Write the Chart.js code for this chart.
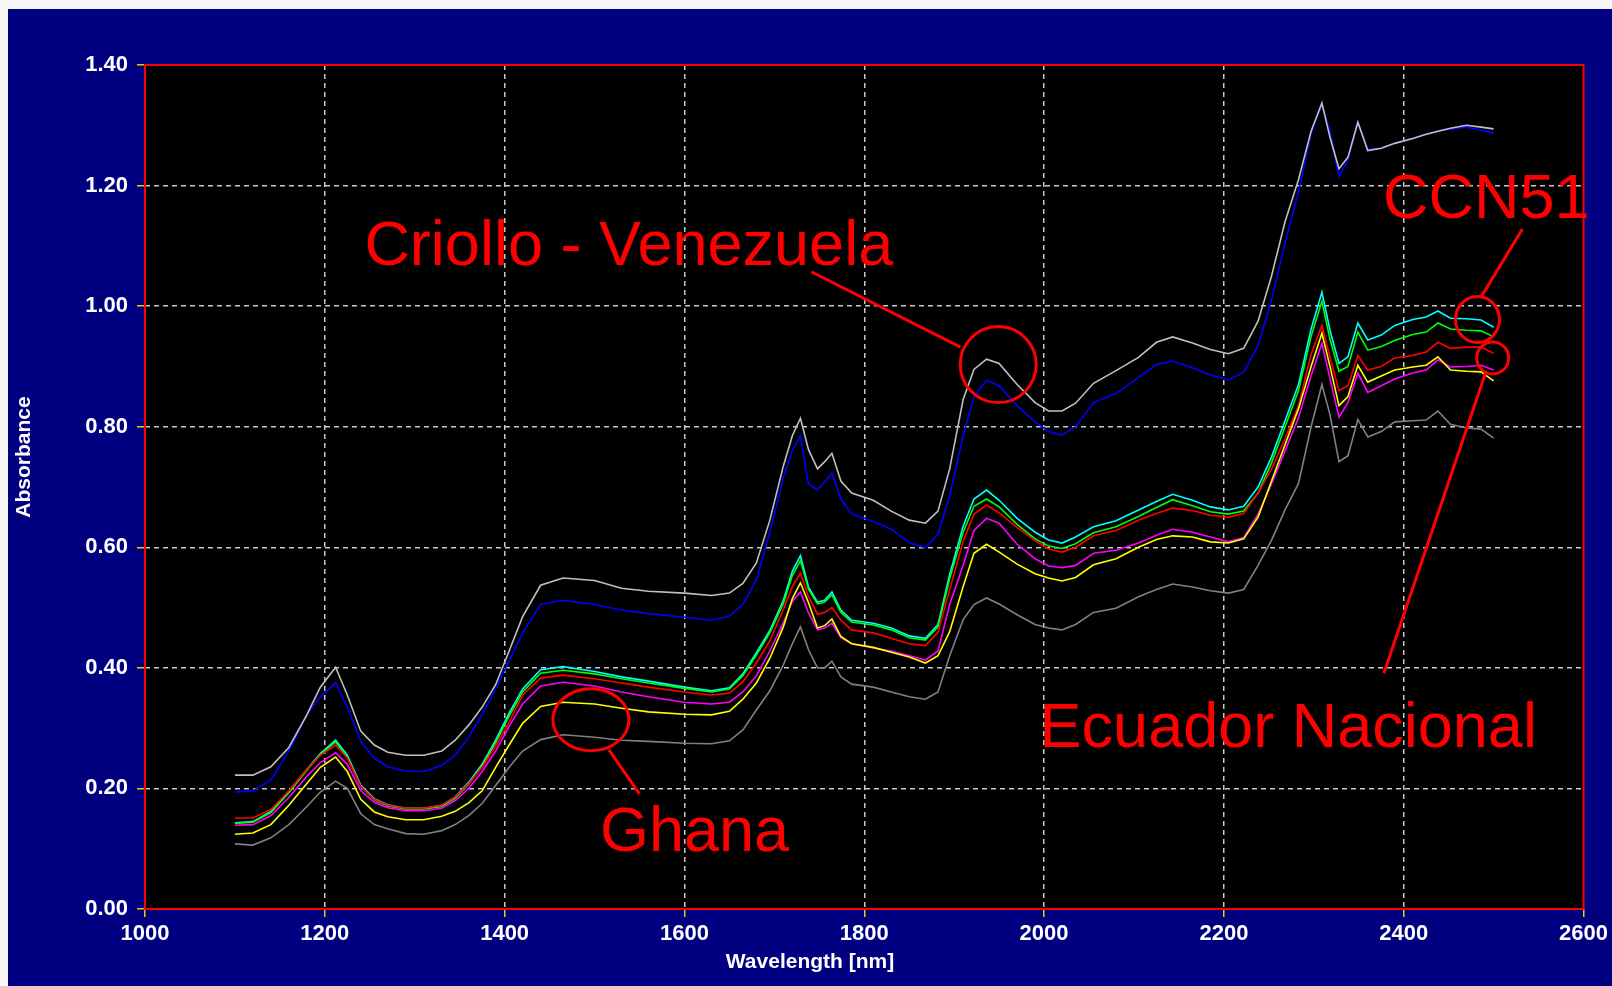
<!DOCTYPE html>
<html lang="en">
  <head>
    <meta charset="UTF-8" />
    <title>NIR spectra - cocoa</title>
    <script src="https://cdn.jsdelivr.net/npm/chart.js"></script>
    <style>
      html, body { margin: 0; padding: 0; background: #f6f6f6; }
      #wrap {
        position: absolute;
        left: 8px;
        top: 9px;
        width: 1604px;
        height: 977px;
        background: #000080;
      }
    </style>
  </head>
  <body>
    <div id="wrap"><canvas id="chartNir"></canvas></div>

    <script>
      // wavelength grid (nm)
      const wavelengths = [
        1100, 1120, 1140, 1160, 1180, 1195, 1212, 1225, 1240, 1255,
        1270, 1290, 1310, 1330, 1345, 1360, 1375, 1390, 1405, 1420,
        1440, 1465, 1500, 1530, 1560, 1600, 1630, 1650, 1665, 1680,
        1695, 1710, 1720, 1729, 1738, 1748, 1756, 1764, 1774, 1786,
        1810, 1830, 1850, 1868, 1882, 1895, 1910, 1922, 1936, 1950,
        1970, 1990, 2005, 2020, 2035, 2055, 2080, 2105, 2125, 2143,
        2165, 2185, 2205, 2222, 2238, 2253, 2268, 2283, 2297, 2309,
        2318, 2328, 2338, 2349, 2360, 2375, 2390, 2410, 2425, 2438,
        2452, 2470, 2486, 2500
      ];

      // absorbance per sample
      const criolloLight = [
        0.222, 0.222, 0.236, 0.268, 0.322, 0.368, 0.401, 0.355, 0.295, 0.272,
        0.260, 0.255, 0.255, 0.262, 0.280, 0.305, 0.335, 0.372, 0.428, 0.485,
        0.537, 0.549, 0.545, 0.532, 0.527, 0.524, 0.520, 0.524, 0.540, 0.574,
        0.645, 0.735, 0.785, 0.814, 0.762, 0.730, 0.742, 0.756, 0.710, 0.690,
        0.678, 0.660, 0.645, 0.640, 0.660, 0.730, 0.845, 0.895, 0.912, 0.905,
        0.870, 0.840, 0.826, 0.826, 0.839, 0.872, 0.893, 0.915, 0.940, 0.949,
        0.939, 0.928, 0.921, 0.930, 0.975, 1.050, 1.140, 1.210, 1.290, 1.337,
        1.280, 1.228, 1.247, 1.305, 1.258, 1.262, 1.270, 1.278, 1.285, 1.290,
        1.295, 1.300, 1.297, 1.294
      ];
      const criolloBlue = [
        0.194, 0.196, 0.214, 0.262, 0.322, 0.352, 0.375, 0.335, 0.278, 0.250,
        0.236, 0.229, 0.228, 0.238, 0.255, 0.285, 0.323, 0.365, 0.412, 0.458,
        0.505, 0.512, 0.505, 0.496, 0.490, 0.484, 0.479, 0.486, 0.505, 0.546,
        0.625, 0.715, 0.760, 0.785, 0.705, 0.695, 0.708, 0.723, 0.680, 0.655,
        0.643, 0.630, 0.608, 0.599, 0.622, 0.685, 0.785, 0.850, 0.877, 0.868,
        0.835, 0.808, 0.792, 0.786, 0.800, 0.840, 0.855, 0.882, 0.903, 0.909,
        0.898, 0.886, 0.878, 0.890, 0.935, 1.010, 1.105, 1.190, 1.287, 1.335,
        1.290, 1.215, 1.242, 1.305, 1.260, 1.262, 1.270, 1.278, 1.285, 1.290,
        1.294, 1.297, 1.292, 1.287
      ];
      const ccnCyan = [
        0.143, 0.145, 0.162, 0.195, 0.232, 0.258, 0.280, 0.255, 0.205, 0.183,
        0.173, 0.167, 0.167, 0.172, 0.186, 0.210, 0.240, 0.280, 0.325, 0.365,
        0.397, 0.402, 0.394, 0.385, 0.378, 0.368, 0.362, 0.367, 0.390, 0.425,
        0.462, 0.512, 0.560, 0.586, 0.534, 0.509, 0.512, 0.526, 0.496, 0.479,
        0.474, 0.466, 0.453, 0.449, 0.472, 0.555, 0.635, 0.680, 0.695, 0.678,
        0.648, 0.625, 0.612, 0.607, 0.617, 0.634, 0.644, 0.662, 0.676, 0.688,
        0.678, 0.667, 0.662, 0.668, 0.700, 0.750, 0.810, 0.870, 0.962, 1.023,
        0.960, 0.905, 0.916, 0.972, 0.944, 0.952, 0.968, 0.978, 0.982, 0.992,
        0.980, 0.979, 0.977, 0.965
      ];
      const ccnGreen = [
        0.142, 0.144, 0.160, 0.193, 0.230, 0.256, 0.277, 0.252, 0.203, 0.181,
        0.171, 0.166, 0.166, 0.170, 0.184, 0.207, 0.237, 0.276, 0.320, 0.360,
        0.391, 0.396, 0.390, 0.382, 0.375, 0.366, 0.360, 0.365, 0.387, 0.421,
        0.458, 0.507, 0.553, 0.578, 0.530, 0.506, 0.509, 0.521, 0.492, 0.476,
        0.471, 0.463, 0.450, 0.446, 0.468, 0.548, 0.625, 0.668, 0.680, 0.667,
        0.638, 0.614, 0.602, 0.598, 0.606, 0.624, 0.634, 0.651, 0.666, 0.679,
        0.669, 0.659, 0.655, 0.660, 0.690, 0.740, 0.800, 0.860, 0.950, 1.008,
        0.945, 0.892, 0.900, 0.957, 0.927, 0.933, 0.943, 0.953, 0.957, 0.972,
        0.962, 0.960, 0.959, 0.949
      ];
      const ecuadorRed = [
        0.151, 0.151, 0.165, 0.196, 0.232, 0.255, 0.272, 0.250, 0.203, 0.182,
        0.172, 0.167, 0.167, 0.172, 0.186, 0.208, 0.235, 0.270, 0.310, 0.355,
        0.383, 0.388, 0.382, 0.375, 0.368, 0.360, 0.355, 0.358, 0.377, 0.408,
        0.445, 0.497, 0.535, 0.557, 0.518, 0.489, 0.492, 0.500, 0.479, 0.463,
        0.458, 0.449, 0.440, 0.437, 0.459, 0.530, 0.610, 0.655, 0.670, 0.657,
        0.633, 0.611, 0.597, 0.592, 0.600, 0.619, 0.628, 0.645, 0.656, 0.665,
        0.661, 0.653, 0.650, 0.656, 0.690, 0.730, 0.780, 0.835, 0.920, 0.968,
        0.915, 0.860, 0.868, 0.918, 0.894, 0.900, 0.914, 0.918, 0.924, 0.940,
        0.930, 0.932, 0.932, 0.922
      ];
      const ecuadorMagenta = [
        0.139, 0.140, 0.155, 0.185, 0.220, 0.243, 0.259, 0.240, 0.196, 0.177,
        0.168, 0.163, 0.163, 0.167, 0.180, 0.200, 0.228, 0.262, 0.303, 0.340,
        0.370, 0.376, 0.370, 0.360, 0.352, 0.343, 0.340, 0.343, 0.360, 0.387,
        0.428, 0.475, 0.510, 0.526, 0.491, 0.463, 0.466, 0.474, 0.450, 0.440,
        0.433, 0.428, 0.420, 0.413, 0.428, 0.505, 0.570, 0.628, 0.648, 0.640,
        0.605, 0.581, 0.569, 0.566, 0.570, 0.590, 0.595, 0.607, 0.620, 0.630,
        0.625, 0.617, 0.609, 0.616, 0.655, 0.705, 0.760, 0.815, 0.885, 0.938,
        0.880, 0.816, 0.840, 0.889, 0.857, 0.868, 0.879, 0.889, 0.894, 0.911,
        0.899, 0.900, 0.902, 0.894
      ];
      const ghanaYellow = [
        0.124, 0.126, 0.140, 0.172, 0.208, 0.235, 0.252, 0.228, 0.182, 0.161,
        0.153, 0.148, 0.148, 0.154, 0.162, 0.176, 0.196, 0.235, 0.272, 0.308,
        0.336, 0.343, 0.340, 0.333, 0.327, 0.323, 0.322, 0.328, 0.348, 0.375,
        0.416, 0.468, 0.515, 0.541, 0.508, 0.466, 0.470, 0.481, 0.452, 0.440,
        0.434, 0.426, 0.418, 0.408, 0.420, 0.460, 0.535, 0.590, 0.605, 0.592,
        0.572, 0.556, 0.549, 0.544, 0.550, 0.571, 0.581, 0.600, 0.613, 0.619,
        0.617, 0.609, 0.607, 0.614, 0.650, 0.710, 0.770, 0.830, 0.900, 0.955,
        0.900, 0.835, 0.850, 0.902, 0.874, 0.884, 0.894, 0.899, 0.902, 0.916,
        0.894, 0.892, 0.891, 0.876
      ];
      const ghanaGray = [
        0.108, 0.106, 0.118, 0.140, 0.170, 0.194, 0.212, 0.200, 0.158, 0.140,
        0.133, 0.125, 0.124, 0.130, 0.140, 0.155, 0.175, 0.205, 0.235, 0.262,
        0.281, 0.289, 0.285, 0.280, 0.278, 0.275, 0.274, 0.279, 0.297, 0.330,
        0.362, 0.405, 0.440, 0.468, 0.430, 0.400, 0.400, 0.411, 0.385, 0.373,
        0.368, 0.360, 0.352, 0.348, 0.360, 0.420, 0.480, 0.505, 0.516, 0.506,
        0.488, 0.472, 0.466, 0.463, 0.472, 0.492, 0.499, 0.518, 0.530, 0.539,
        0.534, 0.528, 0.524, 0.530, 0.570, 0.612, 0.662, 0.706, 0.800, 0.870,
        0.820, 0.742, 0.752, 0.812, 0.783, 0.792, 0.808, 0.810, 0.811, 0.826,
        0.804, 0.798, 0.796, 0.781
      ];

      const xTicks = [1000, 1200, 1400, 1600, 1800, 2000, 2200, 2400, 2600];
      const yTicks = [0, 0.2, 0.4, 0.6, 0.8, 1.0, 1.2, 1.4];

      // red labels, anchored in data units (wavelength, absorbance)
      const notes = [
        { text: "Criollo - Venezuela", x: 1244, y: 1.068 },
        { text: "CCN51", x: 2377, y: 1.146 },
        { text: "Ghana", x: 1506, y: 0.096 },
        { text: "Ecuador Nacional", x: 1995, y: 0.269 },
      ];
      const rings = [
        { x: 1949, y: 0.903, rx: 38, ry: 38 },
        { x: 2482, y: 0.978, rx: 22, ry: 23 },
        { x: 2499, y: 0.914, rx: 16, ry: 16 },
        { x: 1496, y: 0.314, rx: 38, ry: 31 },
      ];
      const pointers = [
        [1741, 1.057, 1907, 0.932],
        [2486, 1.015, 2532, 1.128],
        [2491, 0.889, 2378, 0.391],
        [1516, 0.264, 1550, 0.191],
      ];

      const series = [
        { data: ghanaGray, color: "#808080" },
        { data: ghanaYellow, color: "#ffff00" },
        { data: ecuadorMagenta, color: "#ff00ff" },
        { data: ecuadorRed, color: "#ff0000" },
        { data: ccnGreen, color: "#00ff00" },
        { data: ccnCyan, color: "#00ffff" },
        { data: criolloLight, color: "#c0c0c0" },
        { data: criolloBlue, color: "#0000ff" },
      ];

      const frame = {
        id: "frame",
        beforeDraw(chart) {
          const { ctx, chartArea: a } = chart;
          ctx.save();
          ctx.fillStyle = "#000000";
          ctx.fillRect(a.left, a.top, a.right - a.left, a.bottom - a.top);
          ctx.restore();
        },
        afterDraw(chart) {
          const { ctx, chartArea: a, scales } = chart;
          const sx = (v) => scales.x.getPixelForValue(v);
          const sy = (v) => scales.y.getPixelForValue(v);
          ctx.save();
          ctx.setLineDash([]);
          ctx.strokeStyle = "#ff0000";
          ctx.lineWidth = 2;
          ctx.strokeRect(a.left, a.top, a.right - a.left, a.bottom - a.top);

          // axis titles
          ctx.fillStyle = "#ffffff";
          ctx.font = "bold 21px 'Liberation Sans', Arial, sans-serif";
          ctx.textAlign = "center";
          ctx.textBaseline = "middle";
          ctx.fillText("Wavelength [nm]", chart.width / 2, 953);
          ctx.save();
          ctx.translate(16, 448);
          ctx.rotate(-Math.PI / 2);
          ctx.fillText("Absorbance", 0, 0);
          ctx.restore();

          // annotations
          ctx.strokeStyle = "#ff0000";
          ctx.fillStyle = "#ff0000";
          ctx.lineWidth = 3;
          rings.forEach((r) => {
            ctx.beginPath();
            ctx.ellipse(sx(r.x), sy(r.y), r.rx, r.ry, 0, 0, Math.PI * 2);
            ctx.stroke();
          });
          pointers.forEach((p) => {
            ctx.beginPath();
            ctx.moveTo(sx(p[0]), sy(p[1]));
            ctx.lineTo(sx(p[2]), sy(p[3]));
            ctx.stroke();
          });
          ctx.font = "63px 'Liberation Sans', Arial, sans-serif";
          ctx.textAlign = "left";
          ctx.textBaseline = "alphabetic";
          notes.forEach((n) => ctx.fillText(n.text, sx(n.x), sy(n.y)));
          ctx.restore();
        },
      };

      const tickFont = { family: "'Liberation Sans', Arial, sans-serif", size: 22, weight: "bold" };
      const gridStyle = {
        // no grey line on the frame edges
        color: (c) => (c.index === 0 || c.index === c.scale.ticks.length - 1 ? "rgba(0,0,0,0)" : "#c8c8c8"),
        lineWidth: 1.5,
        tickColor: "#e0d000",
        tickLength: 8,
        tickBorderDash: [1, 0],
      };

      new Chart(document.getElementById("chartNir"), {
        type: "line",
        data: {
          datasets: series.map((s) => ({
            data: wavelengths.map((w, i) => ({ x: w, y: s.data[i] })),
            borderColor: s.color,
            borderWidth: 1.6,
            pointRadius: 0,
            tension: 0,
            fill: false,
          })),
        },
        options: {
          responsive: true,
          maintainAspectRatio: false,
          animation: false,
          events: [],
          layout: { padding: { top: 56, right: 26, left: 0, bottom: 0 } },
          plugins: { legend: { display: false }, tooltip: { enabled: false } },
          scales: {
            x: {
              type: "linear",
              min: 1000,
              max: 2600,
              afterFit: (s) => { s.height = 77; },
              afterBuildTicks: (s) => { s.ticks = xTicks.map((v) => ({ value: v })); },
              ticks: { color: "#ffffff", font: tickFont, padding: 4, maxRotation: 0, callback: (v) => String(v) },
              grid: gridStyle,
              border: { display: false, dash: [5, 4] },
            },
            y: {
              min: 0,
              max: 1.4,
              afterFit: (s) => { s.width = 137; },
              afterBuildTicks: (s) => { s.ticks = yTicks.map((v) => ({ value: v })); },
              ticks: { color: "#ffffff", font: tickFont, padding: 9, callback: (v) => v.toFixed(2) },
              grid: gridStyle,
              border: { display: false, dash: [5, 4] },
            },
          },
        },
        plugins: [frame],
      });
    </script>
  </body>
</html>
